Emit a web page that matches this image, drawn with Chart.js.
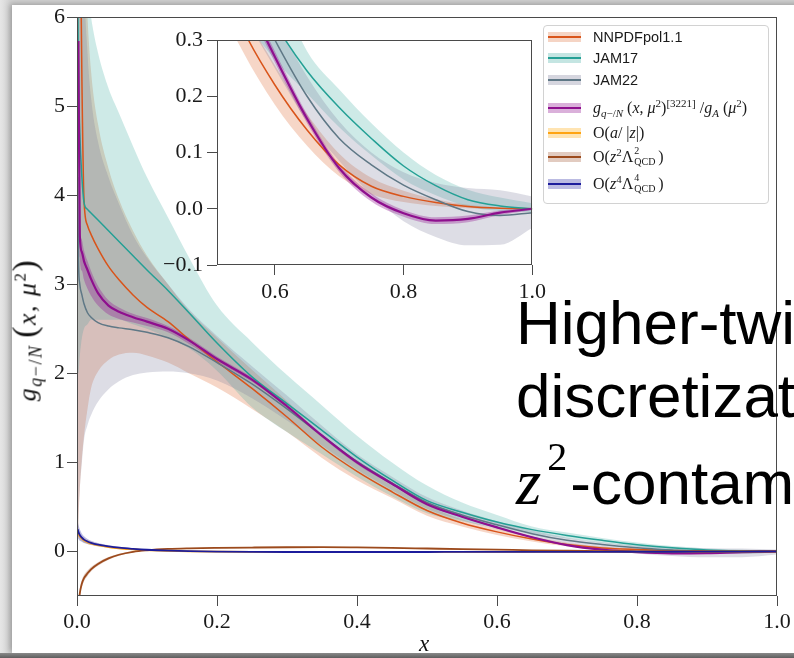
<!DOCTYPE html>
<html><head><meta charset="utf-8">
<script src="https://cdn.jsdelivr.net/npm/chart.js@4.4.1/dist/chart.umd.min.js"></script>
<style>
html,body{margin:0;padding:0}
body{width:794px;height:658px;overflow:hidden;position:relative;background:linear-gradient(90deg,#e6e6e6 0px,#d2d2d2 11px);}
#panel{position:absolute;left:12px;top:5px;width:840px;height:648px;background:#fff;box-shadow:-2px -1px 6px rgba(0,0,0,0.28);}
#bottom{position:absolute;left:0;top:653px;width:794px;height:5px;background:linear-gradient(180deg,#8a8a8a,#5e5e5e)}
canvas{position:absolute}
#main{left:0;top:0}
#inset{left:150px;top:20px}
#legend{position:absolute;left:543px;top:25px;width:224px;height:177px;border:1px solid #d2d2d2;border-radius:4px;background:#fff}
.sw{position:absolute;left:548px;width:33px;height:10px}
.sw i{position:absolute;left:0;right:0;top:4px;height:2px}
.lt{position:absolute;left:593px;height:22px;line-height:22px;white-space:nowrap;color:#1a1a1a}
.sans{font-family:'Liberation Sans',Arial,sans-serif;font-size:14.5px}
.m{font-family:'Liberation Serif',serif;font-size:16px}
.m sub,.m sup{font-size:11px;line-height:0}
.stk{display:inline-block;position:relative;width:25px;height:16px;vertical-align:baseline}
.stk .a,.stk .b{position:absolute;left:1px;font-size:10px;line-height:10px}
.stk .a{top:0px}
.stk .b{top:11px}
.big{position:absolute;left:516px;font-family:'Liberation Sans',Arial,sans-serif;font-size:62px;line-height:62px;white-space:nowrap;color:#000}
#ytitle{position:absolute;left:28px;top:330px;transform:translate(-50%,-50%) rotate(-90deg);white-space:nowrap;font-family:'Liberation Serif',serif;font-size:26px;letter-spacing:1.5px;color:#111;line-height:34px}
#ytitle sub{font-size:18px}
#ytitle sup{font-size:17px}
#ytitle .par{font-size:34px;font-weight:300}
#xtitle{position:absolute;left:419px;top:631px;font-family:'Liberation Serif',serif;font-style:italic;font-size:23px;color:#111}
</style></head>
<body>
<div id="panel"></div>
<div id="bottom"></div>
<canvas id="main" width="794" height="658"></canvas>
<canvas id="inset" width="400" height="290"></canvas>

<div id="legend"></div>
<div class="sw" style="top:32px;background:rgba(225,120,70,0.32)"><i style="background:#d9541a"></i></div>
<div class="lt sans" style="top:26px">NNPDFpol1.1</div>
<div class="sw" style="top:53px;background:rgba(60,170,160,0.3)"><i style="background:#24a095"></i></div>
<div class="lt sans" style="top:47px">JAM17</div>
<div class="sw" style="top:75px;background:rgba(120,120,150,0.3)"><i style="background:#5f7886"></i></div>
<div class="lt sans" style="top:69px">JAM22</div>
<div class="sw" style="top:103px;background:rgba(150,30,150,0.35)"><i style="background:#8e0f8e"></i></div>
<div class="lt m" style="top:97px"><i>g</i><sub><i>q</i>−/<i>N</i></sub> (<i>x</i>, <i>μ</i><sup>2</sup>)<sup>[3221]</sup> /<i>g</i><sub><i>A</i></sub> (<i>μ</i><sup>2</sup>)</div>
<div class="sw" style="top:128px;background:rgba(255,165,0,0.3)"><i style="background:#ffa412"></i></div>
<div class="lt m" style="top:122px">O(<i>a</i>/ |<i>z</i>|)</div>
<div class="sw" style="top:152px;background:rgba(160,82,45,0.3)"><i style="background:#9c4a1c"></i></div>
<div class="lt m" style="top:146px">O(<i>z</i><sup>2</sup>Λ<span class="stk"><span class="a">2</span><span class="b">QCD</span></span>)</div>
<div class="sw" style="top:179px;background:rgba(30,30,160,0.3)"><i style="background:#1c1c9c"></i></div>
<div class="lt m" style="top:173px">O(<i>z</i><sup>4</sup>Λ<span class="stk"><span class="a">4</span><span class="b">QCD</span></span>)</div>

<div class="big" style="top:292px">Higher-twist</div>
<div class="big" style="top:365px">discretization</div>
<div class="big" style="top:451px"><span style="font-family:'Liberation Serif',serif;font-style:italic;font-size:65px">z</span><span style="position:relative;top:-34px;font-family:'Liberation Serif',serif;font-size:40px;margin-left:6px;margin-right:3px">2</span>-contamination</div>

<div id="ytitle"><i>g</i><sub><i>q</i>−/<i>N</i></sub>&thinsp;<span class="par">(</span><i>x</i>,&nbsp;<i>μ</i><sup>2</sup><span class="par">)</span></div>
<div id="xtitle">x</div>

<script>
// ---------------- data ----------------
const X = [0.001, 0.002, 0.004, 0.007, 0.01, 0.015, 0.02, 0.03, 0.045, 0.06, 0.08, 0.1, 0.13, 0.16, 0.2, 0.25, 0.3, 0.35, 0.4, 0.45, 0.5, 0.55, 0.6, 0.65, 0.7, 0.75, 0.8, 0.85, 0.9, 0.95, 1.0];

const nnpdf   = [12, 10, 7.6, 5.3, 3.95, 3.66, 3.56, 3.4, 3.2, 3.05, 2.88, 2.74, 2.58, 2.38, 2.13, 1.83, 1.51, 1.17, 0.9, 0.67, 0.46, 0.32, 0.22, 0.14, 0.078, 0.04, 0.022, 0.011, 0.004, 0.001, 0];
const nnpdfHi = [14, 13, 11, 8.5, 7.0, 6.0, 5.4, 4.8, 4.3, 3.95, 3.6, 3.32, 3.0, 2.7, 2.4, 2.04, 1.69, 1.3, 1.0, 0.74, 0.52, 0.36, 0.255, 0.168, 0.098, 0.055, 0.032, 0.017, 0.007, 0.002, 0];
const nnpdfLo = [0, 0.3, 0.7, 1.05, 1.3, 1.6, 1.83, 2.02, 2.15, 2.21, 2.23, 2.2, 2.12, 2.0, 1.84, 1.6, 1.34, 1.05, 0.8, 0.6, 0.4, 0.28, 0.185, 0.112, 0.058, 0.026, 0.012, 0.005, 0.001, 0, 0];

const jam17   = [6.3, 5.4, 4.7, 4.2, 3.92, 3.84, 3.8, 3.72, 3.6, 3.48, 3.32, 3.16, 2.93, 2.68, 2.34, 1.96, 1.66, 1.36, 1.06, 0.8, 0.57, 0.44, 0.33, 0.245, 0.18, 0.125, 0.076, 0.041, 0.016, 0.005, 0];
const jam17Hi = [14, 12, 10, 8.2, 7.0, 6.3, 6.0, 5.6, 5.2, 4.92, 4.55, 4.2, 3.75, 3.3, 2.76, 2.35, 1.98, 1.64, 1.3, 1.0, 0.74, 0.55, 0.41, 0.28, 0.212, 0.152, 0.1, 0.06, 0.034, 0.02, 0.01];
const jam17Lo = [2.0, 2.0, 2.2, 2.4, 2.5, 2.55, 2.6, 2.6, 2.6, 2.6, 2.55, 2.5, 2.4, 2.28, 2.03, 1.62, 1.34, 1.09, 0.84, 0.62, 0.43, 0.34, 0.265, 0.205, 0.145, 0.095, 0.052, 0.024, 0.004, -0.004, -0.006];

const jam22   = [4.2, 3.3, 3.0, 2.88, 2.78, 2.68, 2.63, 2.57, 2.53, 2.51, 2.49, 2.46, 2.4, 2.3, 2.12, 1.88, 1.6, 1.3, 1.01, 0.77, 0.55, 0.41, 0.3, 0.2, 0.125, 0.078, 0.042, 0.016, -0.005, -0.012, -0.007];
const jam22Hi = [12, 11, 9.5, 8, 6.5, 5.6, 5.1, 4.6, 4.2, 3.9, 3.55, 3.3, 3.0, 2.72, 2.42, 2.08, 1.75, 1.41, 1.09, 0.84, 0.61, 0.46, 0.34, 0.235, 0.155, 0.1, 0.065, 0.046, 0.037, 0.033, 0.022];
const jam22Lo = [0.0, 0.35, 0.7, 1.0, 1.25, 1.42, 1.53, 1.68, 1.82, 1.91, 1.98, 2.01, 2.02, 2.0, 1.92, 1.72, 1.47, 1.19, 0.92, 0.69, 0.48, 0.35, 0.25, 0.155, 0.085, 0.025, -0.022, -0.05, -0.065, -0.064, -0.034];

const lat     = [null, 5.73, 3.55, 3.36, 3.26, 3.16, 3.06, 2.9, 2.76, 2.69, 2.63, 2.58, 2.5, 2.37, 2.16, 1.93, 1.63, 1.3, 1.0, 0.76, 0.53, 0.39, 0.27, 0.16, 0.072, 0.02, -0.008, -0.021, -0.018, -0.007, 0];
const latHi   = [null, 5.9, 3.75, 3.5, 3.38, 3.26, 3.15, 2.98, 2.82, 2.74, 2.67, 2.62, 2.53, 2.4, 2.19, 1.955, 1.65, 1.32, 1.02, 0.775, 0.545, 0.4, 0.28, 0.168, 0.079, 0.027, -0.002, -0.015, -0.012, -0.003, 0.002];
const latLo   = [null, 5.5, 3.3, 3.15, 3.05, 2.95, 2.87, 2.76, 2.66, 2.61, 2.57, 2.53, 2.46, 2.33, 2.13, 1.905, 1.61, 1.28, 0.98, 0.745, 0.515, 0.38, 0.26, 0.152, 0.065, 0.013, -0.014, -0.027, -0.024, -0.011, -0.002];

const oAz     = [0.22, 0.2, 0.17, 0.145, 0.125, 0.105, 0.09, 0.07, 0.05, 0.036, 0.024, 0.014, 0.006, 0.001, -0.002, -0.004, -0.005, -0.005, -0.005, -0.005, -0.005, -0.004, -0.004, -0.004, -0.003, -0.003, -0.003, -0.002, -0.002, -0.001, 0];
const oAzHi   = [0.26, 0.235, 0.2, 0.17, 0.148, 0.125, 0.108, 0.085, 0.062, 0.046, 0.032, 0.02, 0.011, 0.005, 0.001, -0.001, -0.002, -0.002, -0.002, -0.002, -0.002, -0.002, -0.002, -0.002, -0.001, -0.001, -0.001, 0, 0, 0, 0.001];
const oAzLo   = [0.18, 0.165, 0.14, 0.12, 0.102, 0.085, 0.072, 0.055, 0.038, 0.026, 0.016, 0.008, 0.001, -0.003, -0.005, -0.007, -0.008, -0.008, -0.008, -0.008, -0.008, -0.007, -0.007, -0.007, -0.006, -0.006, -0.005, -0.004, -0.004, -0.003, -0.001];

const oZ2     = [-0.75, -0.62, -0.47, -0.36, -0.3, -0.245, -0.2, -0.14, -0.078, -0.037, -0.004, 0.013, 0.028, 0.035, 0.04, 0.044, 0.047, 0.048, 0.045, 0.04, 0.033, 0.026, 0.02, 0.013, 0.008, 0.004, 0.002, 0.001, 0, 0, 0];
const oZ2Hi   = [-0.68, -0.56, -0.42, -0.32, -0.265, -0.215, -0.175, -0.12, -0.063, -0.027, 0.004, 0.019, 0.033, 0.039, 0.044, 0.048, 0.05, 0.051, 0.048, 0.043, 0.036, 0.029, 0.022, 0.015, 0.01, 0.006, 0.003, 0.002, 0.001, 0.001, 0.001];
const oZ2Lo   = [-0.82, -0.68, -0.52, -0.4, -0.335, -0.275, -0.225, -0.16, -0.093, -0.047, -0.012, 0.007, 0.023, 0.031, 0.036, 0.04, 0.044, 0.045, 0.042, 0.037, 0.03, 0.023, 0.018, 0.011, 0.006, 0.002, 0.001, 0, -0.001, -0.001, -0.001];

const oZ4     = [0.25, 0.22, 0.185, 0.155, 0.133, 0.112, 0.097, 0.077, 0.057, 0.042, 0.029, 0.019, 0.009, 0.003, -0.002, -0.005, -0.006, -0.006, -0.006, -0.006, -0.006, -0.005, -0.005, -0.005, -0.004, -0.004, -0.003, -0.003, -0.002, -0.001, 0];
const oZ4Hi   = [0.34, 0.3, 0.25, 0.2, 0.17, 0.14, 0.12, 0.095, 0.07, 0.053, 0.037, 0.026, 0.014, 0.007, 0.002, -0.002, -0.003, -0.003, -0.003, -0.003, -0.003, -0.003, -0.003, -0.003, -0.002, -0.002, -0.001, -0.001, 0, 0.001, 0.002];
const oZ4Lo   = [0.15, 0.14, 0.12, 0.11, 0.096, 0.084, 0.074, 0.059, 0.044, 0.031, 0.021, 0.012, 0.004, -0.001, -0.006, -0.008, -0.009, -0.009, -0.009, -0.009, -0.009, -0.008, -0.008, -0.008, -0.007, -0.007, -0.006, -0.005, -0.004, -0.003, -0.002];

const xTicks = [0, 0.2, 0.4, 0.6, 0.8, 1.0];
const yTicks = [0, 1, 2, 3, 4, 5, 6];
const insetXTicks = [0.6, 0.8, 1.0];
const insetYTicks = [-0.1, 0, 0.1, 0.2, 0.3];

// ---------------- styling ----------------
const COL = {
  nnpdf: ['#d9541a', 'rgba(225,120,70,0.30)'],
  jam17: ['#24a095', 'rgba(60,170,160,0.25)'],
  jam22: ['#5f7886', 'rgba(120,120,150,0.25)'],
  lat:   ['#8e0f8e', 'rgba(150,30,150,0.35)'],
  oAz:   ['#ffa412', 'rgba(255,165,0,0.30)'],
  oZ2:   ['#9c4a1c', 'rgba(160,82,45,0.30)'],
  oZ4:   ['#1c1c9c', 'rgba(30,30,160,0.30)']
};

function pts(a){ return X.map((x,i)=>({x:x, y:a[i]})); }

function buildDatasets(series){
  const ds = [];
  let ord = 40;
  series.forEach(s=>{
    const idx = ds.length;
    ds.push({data:pts(s.hi), borderWidth:0, pointRadius:0, fill:idx+1, backgroundColor:COL[s.k][1], order:ord, cubicInterpolationMode:'monotone'});
    ds.push({data:pts(s.lo), borderWidth:0, pointRadius:0, fill:false, order:ord, cubicInterpolationMode:'monotone'});
    ord--;
  });
  let lo = series.length + 1;
  series.forEach(s=>{
    ds.push({data:pts(s.c), borderColor:COL[s.k][0], borderWidth:s.w, pointRadius:0, fill:false, order:lo, cubicInterpolationMode:'monotone'});
    lo--;
  });
  return ds;
}

const mainSeries = [
  {k:'nnpdf', c:nnpdf, hi:nnpdfHi, lo:nnpdfLo, w:1.5},
  {k:'jam17', c:jam17, hi:jam17Hi, lo:jam17Lo, w:1.5},
  {k:'jam22', c:jam22, hi:jam22Hi, lo:jam22Lo, w:1.5},
  {k:'lat',   c:lat,   hi:latHi,   lo:latLo,   w:2.2},
  {k:'oAz',   c:oAz,   hi:oAzHi,   lo:oAzLo,   w:1.8},
  {k:'oZ2',   c:oZ2,   hi:oZ2Hi,   lo:oZ2Lo,   w:1.8},
  {k:'oZ4',   c:oZ4,   hi:oZ4Hi,   lo:oZ4Lo,   w:1.8}
];
const insetSeries = mainSeries.slice(0,4);

const FONT = {family:"'Liberation Serif', 'Times New Roman', serif", size:22};
function fmt1(v){ return v < -1e-9 ? '\u2212' + Math.abs(v).toFixed(1) : Math.abs(v).toFixed(1); }

const framePlugin = {
  id:'frame',
  beforeDraw(c, args, opts){
    if (opts.fill){
      const a = c.chartArea, ctx = c.ctx;
      ctx.save(); ctx.fillStyle = '#fff';
      ctx.fillRect(a.left, a.top, a.right-a.left, a.bottom-a.top);
      ctx.restore();
    }
  },
  afterDraw(c){
    const a = c.chartArea, ctx = c.ctx;
    ctx.save(); ctx.strokeStyle = '#4a4a4a'; ctx.lineWidth = 1;
    ctx.strokeRect(Math.round(a.left)+0.5, Math.round(a.top)+0.5, Math.round(a.right-a.left)-1, Math.round(a.bottom-a.top)-1);
    ctx.restore();
  }
};

function makeChart(id, series, cfg){
  return new Chart(document.getElementById(id), {
    type:'line',
    data:{datasets:buildDatasets(series)},
    plugins:[framePlugin],
    options:{
      responsive:false, animation:false, devicePixelRatio:1,
      layout:{padding:cfg.padding},
      plugins:{legend:{display:false}, tooltip:{enabled:false}, frame:{fill:cfg.fillWhite}},
      scales:{
        x:{type:'linear', min:cfg.xmin, max:cfg.xmax,
           afterBuildTicks:s=>{ s.ticks = cfg.xt.map(v=>({value:v})); },
           afterFit:s=>{ s.height = cfg.xh; },
           ticks:{font:FONT, color:'#1a1a1a', padding:cfg.xpad, maxRotation:0, autoSkip:false, callback:v=>fmt1(v)},
           grid:{drawOnChartArea:false, tickLength:10, color:'#4a4a4a', lineWidth:1},
           border:{display:false}},
        y:{type:'linear', min:cfg.ymin, max:cfg.ymax,
           afterBuildTicks:s=>{ s.ticks = cfg.yt.map(v=>({value:v})); },
           afterFit:s=>{ s.width = cfg.yw; },
           ticks:{font:FONT, color:'#1a1a1a', padding:cfg.ypad, autoSkip:false, callback:cfg.yfmt},
           grid:{drawOnChartArea:false, tickLength:10, color:'#4a4a4a', lineWidth:1},
           border:{display:false}}
      }
    }
  });
}

makeChart('main', mainSeries, {
  padding:{top:17, right:17, left:0, bottom:0},
  xmin:0, xmax:1, ymin:-0.5, ymax:6, xt:xTicks, yt:yTicks,
  xh:62, yw:77, xpad:3, ypad:2, yfmt:v=>String(v), fillWhite:false
});

makeChart('inset', insetSeries, {
  padding:{top:20, right:17, left:0, bottom:0},
  xmin:0.51, xmax:1, ymin:-0.1, ymax:0.3, xt:insetXTicks, yt:insetYTicks,
  xh:45, yw:67, xpad:4, ypad:4, yfmt:v=>fmt1(v), fillWhite:true
});
</script>
</body></html>
